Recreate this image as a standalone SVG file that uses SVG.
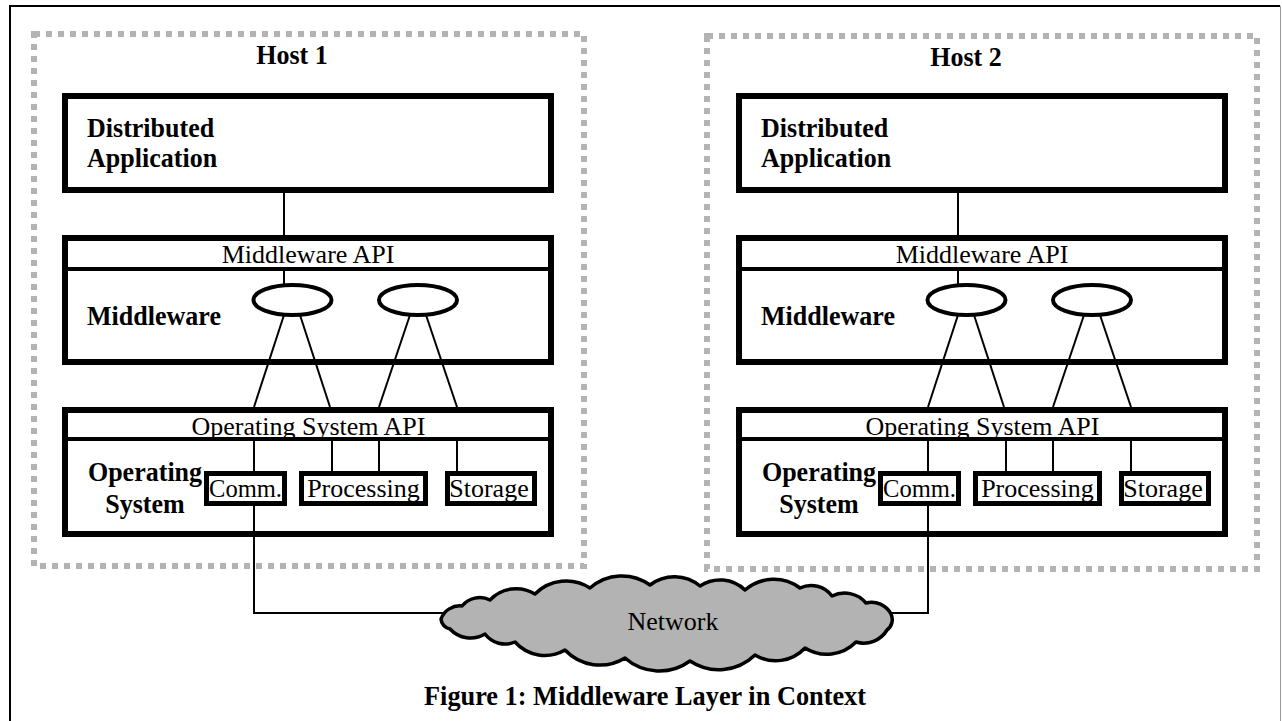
<svg xmlns="http://www.w3.org/2000/svg" width="1282" height="721" viewBox="0 0 1282 721">
<style>
.box{fill:#fff;stroke:#000;stroke-width:6}
.sub{fill:#fff;stroke:#000;stroke-width:5}
.div{stroke:#000;stroke-width:4}
.host{fill:none;stroke:#b3b3b3;stroke-width:6;stroke-dasharray:6 6}
.conn{stroke:#000;stroke-width:2;fill:none}
.ell{fill:#fff;stroke:#000;stroke-width:4}
.cloud{fill:#b3b3b3;stroke:#000;stroke-width:3.5;stroke-linejoin:round}
text{font-family:"Liberation Serif","Times New Roman",serif;font-size:26px;fill:#000}
.b{font-weight:bold;font-size:28px}
.c{text-anchor:middle}
</style>
<rect width="1282" height="721" fill="#fff"/>
<g id="frame">
<path d="M10,722 V6 H1280" fill="none" stroke="#000" stroke-width="2"/>
<line x1="1280.5" y1="6" x2="1280.5" y2="721" stroke="#999" stroke-width="1"/>
</g>
<g id="host1">
<rect class="host" x="34" y="34" width="550" height="532"/>
<text class="b c" transform="translate(292,64) scale(0.93,1)">Host 1</text>
</g>
<g id="host2">
<rect class="host" x="707" y="36" width="550" height="533"/>
<text class="b c" transform="translate(966,66) scale(0.93,1)">Host 2</text>
</g>
<g id="host1-app">
<rect class="box" x="65" y="96" width="486" height="94"/>
<text class="b" transform="translate(87,137) scale(0.93,1)">Distributed</text>
<text class="b" transform="translate(87,167) scale(0.93,1)">Application</text>
</g>
<g id="host1-middleware">
<rect class="box" x="65" y="238" width="486" height="124"/>
<line class="div" x1="65" y1="269" x2="551" y2="269"/>
<text class="c" x="308" y="263">Middleware API</text>
<text class="b" transform="translate(87,325) scale(0.93,1)">Middleware</text>
<ellipse class="ell" cx="292.5" cy="300" rx="39" ry="15"/>
<ellipse class="ell" cx="418" cy="300" rx="39" ry="15"/>
</g>
<g id="host1-os">
<rect class="box" x="65" y="410" width="486" height="124"/>
<line class="div" x1="65" y1="439" x2="551" y2="439"/>
<text class="c" x="308.5" y="435">Operating System API</text>
<text class="b c" transform="translate(145,481) scale(0.93,1)">Operating</text>
<text class="b c" transform="translate(145,513) scale(0.93,1)">System</text>
</g>
<g id="host1-comm">
<rect class="sub" x="206.5" y="473.5" width="78" height="30"/>
<text x="209" y="497" textLength="73" lengthAdjust="spacingAndGlyphs">Comm.</text>
</g>
<g id="host1-processing">
<rect class="sub" x="301.5" y="473.5" width="124" height="30"/>
<text class="c" x="363.5" y="497">Processing</text>
</g>
<g id="host1-storage">
<rect class="sub" x="447.5" y="473.5" width="87" height="30"/>
<text class="c" x="489" y="497">Storage</text>
</g>
<g transform="translate(674,0)">
<g id="host2-app">
<rect class="box" x="65" y="96" width="486" height="94"/>
<text class="b" transform="translate(87,137) scale(0.93,1)">Distributed</text>
<text class="b" transform="translate(87,167) scale(0.93,1)">Application</text>
</g>
<g id="host2-middleware">
<rect class="box" x="65" y="238" width="486" height="124"/>
<line class="div" x1="65" y1="269" x2="551" y2="269"/>
<text class="c" x="308" y="263">Middleware API</text>
<text class="b" transform="translate(87,325) scale(0.93,1)">Middleware</text>
<ellipse class="ell" cx="292.5" cy="300" rx="39" ry="15"/>
<ellipse class="ell" cx="418" cy="300" rx="39" ry="15"/>
</g>
<g id="host2-os">
<rect class="box" x="65" y="410" width="486" height="124"/>
<line class="div" x1="65" y1="439" x2="551" y2="439"/>
<text class="c" x="308.5" y="435">Operating System API</text>
<text class="b c" transform="translate(145,481) scale(0.93,1)">Operating</text>
<text class="b c" transform="translate(145,513) scale(0.93,1)">System</text>
</g>
<g id="host2-comm">
<rect class="sub" x="206.5" y="473.5" width="78" height="30"/>
<text x="209" y="497" textLength="73" lengthAdjust="spacingAndGlyphs">Comm.</text>
</g>
<g id="host2-processing">
<rect class="sub" x="301.5" y="473.5" width="124" height="30"/>
<text class="c" x="363.5" y="497">Processing</text>
</g>
<g id="host2-storage">
<rect class="sub" x="447.5" y="473.5" width="87" height="30"/>
<text class="c" x="489" y="497">Storage</text>
</g>
</g>
<g id="connectors">
<g id="host1-links">
<line class="conn" x1="284" y1="193" x2="284" y2="238"/>
<line class="conn" x1="284" y1="271" x2="284" y2="285"/>
<line class="conn" x1="284" y1="315" x2="254" y2="407"/>
<line class="conn" x1="300" y1="315" x2="330" y2="407"/>
<line class="conn" x1="410" y1="315" x2="379" y2="407"/>
<line class="conn" x1="426" y1="315" x2="457" y2="407"/>
<line class="conn" x1="254" y1="441" x2="254" y2="471"/>
<line class="conn" x1="332" y1="441" x2="332" y2="471"/>
<line class="conn" x1="379" y1="441" x2="379" y2="471"/>
<line class="conn" x1="457" y1="441" x2="457" y2="471"/>
</g>
<g id="host2-links" transform="translate(674,0)">
<line class="conn" x1="284" y1="193" x2="284" y2="238"/>
<line class="conn" x1="284" y1="271" x2="284" y2="285"/>
<line class="conn" x1="284" y1="315" x2="254" y2="407"/>
<line class="conn" x1="300" y1="315" x2="330" y2="407"/>
<line class="conn" x1="410" y1="315" x2="379" y2="407"/>
<line class="conn" x1="426" y1="315" x2="457" y2="407"/>
<line class="conn" x1="254" y1="441" x2="254" y2="471"/>
<line class="conn" x1="332" y1="441" x2="332" y2="471"/>
<line class="conn" x1="379" y1="441" x2="379" y2="471"/>
<line class="conn" x1="457" y1="441" x2="457" y2="471"/>
</g>
<polyline class="conn" points="254,506 254,613 460,613"/>
<polyline class="conn" points="928,506 928,613 875,613"/>
</g>
<g id="network">
<path class="cloud" d="M441,619 A20,20 0 0 1 462,606 A23,23 0 0 1 490,600 A36,36 0 0 1 535,594 A44,44 0 0 1 590,588 A48,48 0 0 1 650,585 A40,40 0 0 1 700,586 A36,36 0 0 1 745,590 A44,44 0 0 1 800,588 A26,26 0 0 1 832,596 A28,28 0 0 1 866,603 A22,22 0 0 1 891,614 A13,13 0 0 1 887,630 A27,27 0 0 1 856,642 A41,41 0 0 1 805,648 A40,40 0 0 1 755,655 A52,52 0 0 1 690,661 A52,52 0 0 1 625,658 A48,48 0 0 1 565,650 A40,40 0 0 1 515,642 A25,25 0 0 1 485,634 A28,28 0 0 1 450,629 A11,11 0 0 1 441,619 Z"/>
<text class="c" x="673" y="630">Network</text>
</g>
<g id="caption">
<text class="b c" transform="translate(645,705) scale(0.94,1)">Figure 1: Middleware Layer in Context</text>
</g>
</svg>
